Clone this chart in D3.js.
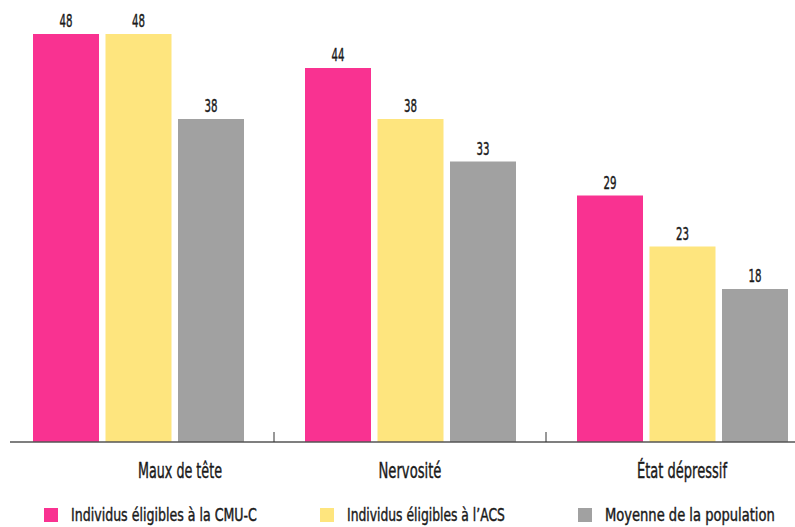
<!DOCTYPE html>
<html><head><meta charset="utf-8">
<script src="https://cdn.jsdelivr.net/npm/d3@7"></script>
<style>body{margin:0;background:#fff}svg{display:block}text{font-family:"DejaVu Sans",sans-serif;fill:#1a1a1a;stroke:#1a1a1a;stroke-width:0.45px}</style>
</head><body><svg id="c" width="795" height="527"></svg>
<script>
const categories = ["Maux de tête", "Nervosité", "État dépressif"];
const series = ["Individus éligibles à la CMU-C", "Individus éligibles à l’ACS", "Moyenne de la population"];
const cmuc = [48, 44, 29];
const acs = [48, 38, 23];
const moyenne = [38, 33, 18];
const colors = ["#f93291", "#fee57e", "#a1a1a1"];

const values = [cmuc, acs, moyenne];
const svg = d3.select("#c");
const x0 = d3.scaleBand().domain(categories).range([2, 818]);
const x1 = d3.scaleBand().domain(series).range([31, 242]).paddingInner(6.5/72.5).paddingOuter(0);
const y = d3.scaleLinear().domain([0, 48]).range([442, 34]);

// place a text at (x, y) horizontally condensed to a target width via a transform
function placeText(parent, str, x, yy, size, width, anchor) {
  const t = parent.append("text").attr("font-size", size).text(str);
  const w = t.node().getComputedTextLength();
  const k = width / w;
  const left = anchor === "middle" ? x - width / 2 : x;
  t.attr("transform", `translate(${left},${yy}) scale(${k},1)`);
  return t;
}

const g = svg.selectAll("g.grp").data(categories).join("g")
  .attr("transform", d => `translate(${x0(d)},0)`);
g.each(function(c, i) {
  const gg = d3.select(this);
  series.forEach((s, si) => {
    const v = values[si][i];
    gg.append("rect")
      .attr("x", x1(s)).attr("width", x1.bandwidth())
      .attr("y", y(v)).attr("height", y(0) - y(v))
      .attr("fill", colors[si]);
    placeText(gg, String(v), x1(s) + x1.bandwidth() / 2, y(v) - 7, 18, 13, "middle");
  });
});

// axis
svg.append("line").attr("x1", 10).attr("x2", 795).attr("y1", 442).attr("y2", 442)
  .attr("stroke", "#555").attr("stroke-width", 1.5);
categories.slice(1).forEach(c => {
  svg.append("line").attr("x1", x0(c)).attr("x2", x0(c)).attr("y1", 432).attr("y2", 442)
    .attr("stroke", "#333").attr("stroke-width", 1);
});
const labelDx = [42, 0, 0];
const catW = [84, 63, 90];
categories.forEach((c, i) => {
  placeText(svg, c, x0(c) + x0.bandwidth() / 2 + labelDx[i], 478, 21, catW[i], "middle");
});

// legend
const legX = [44, 320, 578];
const legW = [186, 158, 170];
series.forEach((s, i) => {
  svg.append("rect").attr("x", legX[i]).attr("y", 508).attr("width", 14).attr("height", 14).attr("fill", colors[i]);
  placeText(svg, s, legX[i] + 27, 521, 17, legW[i], "start");
});
</script></body></html>
